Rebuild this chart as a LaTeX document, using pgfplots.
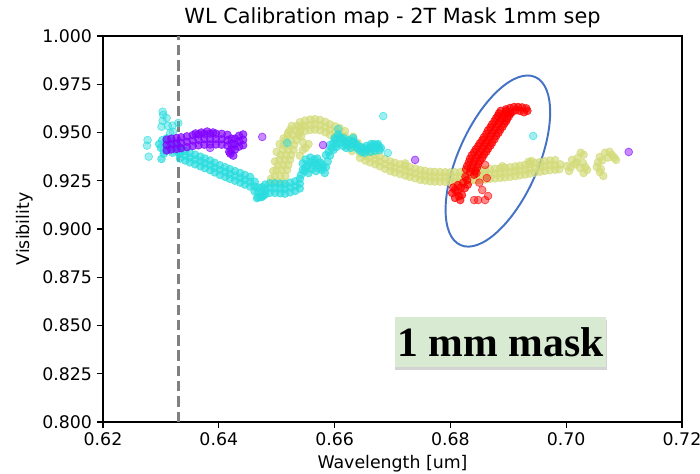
\documentclass[border=0pt]{standalone}
\usepackage{fontspec}
\setmainfont{DejaVu Sans}
\newfontfamily\tnr{Liberation Serif}
\usepackage{pgfplots}
\pgfplotsset{compat=1.18}
\usetikzlibrary{shadows}
\definecolor{cpurple}{RGB}{128,0,255}
\definecolor{ccyan}{RGB}{41,220,222}
\definecolor{cyel}{RGB}{210,218,120}
\definecolor{cred}{RGB}{255,0,0}
\definecolor{cblue}{RGB}{68,114,196}
\definecolor{boxgreen}{RGB}{217,234,211}
\definecolor{dgray}{RGB}{128,128,128}
\pgfplotsset{scat/.style={only marks, mark=*, mark size=2.8pt, mark options={fill opacity=0.68, draw opacity=0.75, line width=0.5pt}},
  lone/.style={only marks, mark=*, mark size=2.8pt, mark options={fill opacity=0.45, draw opacity=0.65, line width=0.5pt}}}
\begin{document}
\begin{tikzpicture}
\begin{axis}[name=ax, scale only axis, width=416.88pt, height=277.92pt,
  xmin=0.62, xmax=0.72, ymin=0.8, ymax=1.0,
  xtick={0.62,0.64,0.66,0.68,0.70,0.72},
  ytick={0.8,0.825,0.85,0.875,0.9,0.925,0.95,0.975,1.0},
  /pgf/number format/assume math mode=true,
  xticklabel style={/pgf/number format/.cd, fixed, fixed zerofill, precision=2},
  yticklabel style={/pgf/number format/.cd, fixed, fixed zerofill, precision=3},
  scaled ticks=false,
  tick align=outside, major tick length=4.4pt,
  xtick pos=left, ytick pos=left,
  tick style={black, line width=1pt},
  axis line style={line width=1pt},
  tick label style={font=\fontsize{12.5}{14}\selectfont},
  label style={font=\fontsize{12.5}{14}\selectfont},
  title={WL Calibration map - 2T Mask 1mm sep},
  title style={font=\fontsize{15}{17}\selectfont, yshift=-4pt},
  xlabel={Wavelength [um]}, ylabel={Visibility},
]
% yellow-green series
\addplot[scat, color=cyel] coordinates {
(0.6502,0.9244) (0.6511,0.9244) (0.6493,0.9244)
(0.6506,0.9275) (0.6515,0.9275) (0.6497,0.9275)
(0.6509,0.9306) (0.6518,0.9306) (0.6500,0.9306)
(0.6511,0.9332) (0.6520,0.9332) (0.6502,0.9332)
(0.6514,0.9358) (0.6523,0.9358) (0.6505,0.9358)
(0.6516,0.9383) (0.6525,0.9383) (0.6507,0.9383)
(0.6520,0.9409) (0.6529,0.9409) (0.6511,0.9409)
(0.6521,0.9435) (0.6530,0.9435) (0.6512,0.9435)
(0.6525,0.9461) (0.6534,0.9461) (0.6516,0.9461)
(0.6528,0.9487) (0.6537,0.9487) (0.6519,0.9487)
(0.6532,0.9513) (0.6541,0.9513) (0.6523,0.9513)
(0.6535,0.9534) (0.6544,0.9534) (0.6526,0.9534)
(0.6494,0.9300) (0.6497,0.9350) (0.6500,0.9400) (0.6505,0.9440) (0.6512,0.9470)
(0.6520,0.9500) (0.6490,0.9260) (0.6545,0.9450) (0.6550,0.9420) (0.6542,0.9480)
(0.6545,0.9410) (0.6555,0.9440) (0.6540,0.9380)
(0.6540,0.9526) (0.6540,0.9553) (0.6540,0.9499)
(0.6549,0.9535) (0.6549,0.9562) (0.6549,0.9508)
(0.6558,0.9540) (0.6558,0.9567) (0.6558,0.9513)
(0.6566,0.9542) (0.6566,0.9569) (0.6566,0.9515)
(0.6575,0.9538) (0.6575,0.9565) (0.6575,0.9511)
(0.6584,0.9528) (0.6584,0.9555) (0.6584,0.9501)
(0.6592,0.9515) (0.6592,0.9542) (0.6592,0.9488)
(0.6601,0.9505) (0.6601,0.9532) (0.6601,0.9478)
(0.6609,0.9495) (0.6609,0.9522) (0.6609,0.9468)
(0.6618,0.9480) (0.6618,0.9507) (0.6618,0.9453)
(0.6627,0.9455) (0.6632,0.9478) (0.6622,0.9432)
(0.6635,0.9425) (0.6640,0.9446) (0.6630,0.9404)
(0.6644,0.9393) (0.6644,0.9418) (0.6644,0.9368)
(0.6653,0.9380) (0.6653,0.9405) (0.6653,0.9355)
(0.6661,0.9370) (0.6661,0.9395) (0.6661,0.9345)
(0.6670,0.9360) (0.6670,0.9385) (0.6670,0.9335)
(0.6678,0.9350) (0.6678,0.9375) (0.6678,0.9325)
(0.6687,0.9337) (0.6687,0.9362) (0.6687,0.9312)
(0.6696,0.9325) (0.6696,0.9350) (0.6696,0.9300)
(0.6704,0.9318) (0.6704,0.9343) (0.6704,0.9293)
(0.6713,0.9310) (0.6713,0.9335) (0.6713,0.9285)
(0.6722,0.9302) (0.6722,0.9327) (0.6722,0.9277)
(0.6730,0.9295) (0.6730,0.9320) (0.6730,0.9270)
(0.6739,0.9288) (0.6739,0.9313) (0.6739,0.9263)
(0.6748,0.9280) (0.6748,0.9305) (0.6748,0.9255)
(0.6756,0.9276) (0.6756,0.9301) (0.6756,0.9251)
(0.6765,0.9272) (0.6765,0.9297) (0.6765,0.9247)
(0.6773,0.9271) (0.6773,0.9296) (0.6773,0.9246)
(0.6782,0.9270) (0.6782,0.9295) (0.6782,0.9245)
(0.6791,0.9269) (0.6791,0.9294) (0.6791,0.9244)
(0.6799,0.9268) (0.6799,0.9293) (0.6799,0.9243)
(0.6808,0.9269) (0.6808,0.9294) (0.6808,0.9244)
(0.6817,0.9270) (0.6817,0.9295) (0.6817,0.9245)
(0.6825,0.9272) (0.6825,0.9297) (0.6825,0.9247)
(0.6834,0.9275) (0.6834,0.9300) (0.6834,0.9250)
(0.6843,0.9277) (0.6843,0.9302) (0.6843,0.9252)
(0.6851,0.9280) (0.6851,0.9305) (0.6851,0.9255)
(0.6860,0.9282) (0.6860,0.9307) (0.6860,0.9257)
(0.6868,0.9285) (0.6868,0.9310) (0.6868,0.9260)
(0.6877,0.9287) (0.6877,0.9312) (0.6877,0.9262)
(0.6886,0.9290) (0.6886,0.9315) (0.6886,0.9265)
(0.6894,0.9292) (0.6894,0.9317) (0.6894,0.9267)
(0.6903,0.9295) (0.6903,0.9320) (0.6903,0.9270)
(0.6912,0.9299) (0.6912,0.9324) (0.6912,0.9274)
(0.6920,0.9303) (0.6920,0.9328) (0.6920,0.9278)
(0.6929,0.9307) (0.6929,0.9332) (0.6929,0.9282)
(0.6937,0.9312) (0.6937,0.9337) (0.6937,0.9287)
(0.6946,0.9317) (0.6946,0.9342) (0.6946,0.9292)
(0.6955,0.9322) (0.6955,0.9347) (0.6955,0.9297)
(0.6963,0.9326) (0.6963,0.9351) (0.6963,0.9301)
(0.6972,0.9330) (0.6972,0.9355) (0.6972,0.9305)
(0.6981,0.9332) (0.6981,0.9357) (0.6981,0.9307)
(0.6722,0.9340) (0.6935,0.9348) (0.6940,0.9352) (0.6890,0.9325) (0.6990,0.9335) (0.6988,0.9310)
(0.7001,0.9326) (0.7005,0.9300) (0.7010,0.9358) (0.7015,0.9335) (0.7020,0.9368) (0.7024,0.9316)
(0.7029,0.9342) (0.7033,0.9320) (0.7036,0.9306) (0.7018,0.9345) (0.7008,0.9320) (0.7030,0.9290)
(0.7025,0.9395) (0.7030,0.9385)
(0.7053,0.9321) (0.7055,0.9345) (0.7058,0.9373) (0.7062,0.9355) (0.7067,0.9395) (0.7072,0.9370)
(0.7079,0.9383) (0.7083,0.9370) (0.7086,0.9358) (0.7058,0.9295) (0.7064,0.9275) (0.7060,0.9310)
(0.7075,0.9400)
};
% cyan series
\addplot[lone, color=ccyan] coordinates {
(0.6277,0.9461) (0.6276,0.9432) (0.6279,0.9375) (0.6303,0.9608) (0.6304,0.9591) (0.6303,0.9561)
(0.6310,0.9575) (0.6301,0.9530) (0.6312,0.9534) (0.6321,0.9504) (0.6316,0.9497) (0.6330,0.9549)
(0.6320,0.9536)
(0.6684,0.9585) (0.6692,0.9394) (0.6606,0.9518) (0.6518,0.9446) (0.6943,0.9482)
};
\addplot[scat, color=ccyan] coordinates {
(0.6301,0.9363) (0.6305,0.9405)
(0.6297,0.9440) (0.6300,0.9420) (0.6302,0.9460) (0.6305,0.9390) (0.6308,0.9445) (0.6310,0.9470)
(0.6312,0.9410) (0.6315,0.9435) (0.6318,0.9455) (0.6320,0.9395) (0.6322,0.9420) (0.6325,0.9445)
(0.6327,0.9405) (0.6330,0.9430) (0.6332,0.9390) (0.6334,0.9415)
(0.6333,0.9390) (0.6333,0.9415) (0.6333,0.9365)
(0.6342,0.9380) (0.6342,0.9405) (0.6342,0.9355)
(0.6350,0.9370) (0.6350,0.9395) (0.6350,0.9345)
(0.6359,0.9360) (0.6359,0.9385) (0.6359,0.9335)
(0.6368,0.9350) (0.6368,0.9375) (0.6368,0.9325)
(0.6376,0.9340) (0.6376,0.9365) (0.6376,0.9315)
(0.6385,0.9330) (0.6385,0.9355) (0.6385,0.9305)
(0.6393,0.9318) (0.6393,0.9343) (0.6393,0.9293)
(0.6402,0.9305) (0.6402,0.9330) (0.6402,0.9280)
(0.6411,0.9295) (0.6411,0.9320) (0.6411,0.9270)
(0.6419,0.9285) (0.6419,0.9310) (0.6419,0.9260)
(0.6428,0.9275) (0.6428,0.9300) (0.6428,0.9250)
(0.6437,0.9265) (0.6437,0.9290) (0.6437,0.9240)
(0.6445,0.9255) (0.6445,0.9280) (0.6445,0.9230)
(0.6454,0.9245) (0.6454,0.9270) (0.6454,0.9220)
(0.6462,0.9220) (0.6462,0.9245) (0.6462,0.9195)
(0.6468,0.9190) (0.6468,0.9215) (0.6468,0.9165)
(0.6475,0.9192) (0.6475,0.9217) (0.6475,0.9167)
(0.6480,0.9205) (0.6480,0.9230) (0.6480,0.9180)
(0.6488,0.9212) (0.6488,0.9237) (0.6488,0.9187)
(0.6497,0.9212) (0.6497,0.9237) (0.6497,0.9187)
(0.6506,0.9210) (0.6506,0.9235) (0.6506,0.9185)
(0.6514,0.9208) (0.6514,0.9233) (0.6514,0.9183)
(0.6523,0.9215) (0.6523,0.9240) (0.6523,0.9190)
(0.6532,0.9222) (0.6532,0.9247) (0.6532,0.9197)
(0.6540,0.9235) (0.6540,0.9260) (0.6540,0.9210)
(0.6466,0.9160) (0.6472,0.9165) (0.6478,0.9175)
(0.6545,0.9306) (0.6558,0.9347) (0.6570,0.9332) (0.6578,0.9306) (0.6585,0.9383) (0.6592,0.9435)
(0.6601,0.9461) (0.6609,0.9477) (0.6618,0.9451) (0.6627,0.9435) (0.6632,0.9471) (0.6639,0.9420)
(0.6647,0.9399) (0.6656,0.9409) (0.6665,0.9430) (0.6673,0.9435) (0.6678,0.9409)
(0.6542,0.9280) (0.6550,0.9320) (0.6555,0.9290) (0.6562,0.9330) (0.6565,0.9360) (0.6568,0.9300)
(0.6575,0.9345) (0.6580,0.9320) (0.6583,0.9290) (0.6550,0.9360) (0.6545,0.9340) (0.6588,0.9350)
(0.6590,0.9400) (0.6595,0.9420) (0.6598,0.9445) (0.6604,0.9440) (0.6606,0.9490) (0.6612,0.9465)
(0.6615,0.9430) (0.6622,0.9440) (0.6625,0.9460) (0.6630,0.9450) (0.6635,0.9440) (0.6642,0.9410)
(0.6650,0.9420) (0.6652,0.9395) (0.6660,0.9420) (0.6662,0.9400) (0.6668,0.9440) (0.6670,0.9420)
(0.6676,0.9425)
(0.6548,0.9300) (0.6553,0.9330) (0.6560,0.9310) (0.6565,0.9340) (0.6572,0.9315) (0.6578,0.9335)
(0.6585,0.9320) (0.6558,0.9370) (0.6570,0.9365)
(0.6592,0.9380) (0.6598,0.9410) (0.6603,0.9425) (0.6610,0.9445) (0.6616,0.9470) (0.6620,0.9420)
(0.6628,0.9420) (0.6633,0.9455) (0.6638,0.9440) (0.6645,0.9425) (0.6655,0.9430) (0.6663,0.9440)
(0.6670,0.9405) (0.6675,0.9440) (0.6680,0.9420) (0.6600,0.9470)
};
% purple series
\addplot[scat, color=cpurple] coordinates {
(0.6310,0.9435) (0.6310,0.9463) (0.6310,0.9407)
(0.6318,0.9440) (0.6318,0.9468) (0.6318,0.9412)
(0.6327,0.9443) (0.6327,0.9471) (0.6327,0.9415)
(0.6335,0.9447) (0.6335,0.9475) (0.6335,0.9419)
(0.6345,0.9452) (0.6345,0.9480) (0.6345,0.9424)
(0.6355,0.9458) (0.6355,0.9486) (0.6355,0.9430)
(0.6365,0.9462) (0.6365,0.9490) (0.6365,0.9434)
(0.6375,0.9465) (0.6375,0.9493) (0.6375,0.9437)
(0.6385,0.9466) (0.6385,0.9494) (0.6385,0.9438)
(0.6395,0.9466) (0.6395,0.9494) (0.6395,0.9438)
(0.6405,0.9465) (0.6405,0.9493) (0.6405,0.9437)
(0.6415,0.9460) (0.6415,0.9488) (0.6415,0.9432)
(0.6422,0.9440) (0.6422,0.9468) (0.6422,0.9412)
(0.6428,0.9440) (0.6428,0.9468) (0.6428,0.9412)
(0.6435,0.9455) (0.6435,0.9483) (0.6435,0.9427)
(0.6442,0.9462) (0.6442,0.9490) (0.6442,0.9434)
(0.6420,0.9390) (0.6425,0.9380) (0.6418,0.9400) (0.6380,0.9505) (0.6370,0.9500)
(0.6390,0.9500) (0.6360,0.9495)
};
\addplot[lone, color=cpurple] coordinates {
(0.6475,0.9477) (0.6385,0.9420) (0.6580,0.9435) (0.6739,0.9358) (0.7108,0.9399)
};
% red series
\addplot[scat, color=cred] coordinates {
(0.6808,0.9202) (0.6813,0.9228) (0.6820,0.9176) (0.6808,0.9161) (0.6817,0.9150) (0.6825,0.9212)
(0.6829,0.9254) (0.6803,0.9187) (0.6812,0.9195) (0.6818,0.9215) (0.6822,0.9240) (0.6826,0.9270)
(0.6830,0.9230) (0.6815,0.9170) (0.6805,0.9215)
(0.6834,0.9295) (0.6841,0.9281) (0.6827,0.9309)
(0.6836,0.9313) (0.6843,0.9299) (0.6829,0.9327)
(0.6839,0.9332) (0.6846,0.9318) (0.6832,0.9346)
(0.6841,0.9350) (0.6848,0.9336) (0.6834,0.9364)
(0.6844,0.9368) (0.6851,0.9354) (0.6837,0.9382)
(0.6848,0.9384) (0.6855,0.9370) (0.6841,0.9398)
(0.6851,0.9399) (0.6858,0.9385) (0.6844,0.9413)
(0.6855,0.9415) (0.6862,0.9401) (0.6848,0.9429)
(0.6858,0.9430) (0.6865,0.9416) (0.6851,0.9444)
(0.6862,0.9446) (0.6869,0.9432) (0.6855,0.9460)
(0.6865,0.9461) (0.6872,0.9447) (0.6858,0.9475)
(0.6869,0.9479) (0.6876,0.9465) (0.6862,0.9493)
(0.6872,0.9497) (0.6879,0.9483) (0.6865,0.9511)
(0.6876,0.9512) (0.6883,0.9498) (0.6869,0.9526)
(0.6879,0.9528) (0.6886,0.9514) (0.6872,0.9542)
(0.6883,0.9544) (0.6890,0.9530) (0.6876,0.9558)
(0.6886,0.9560) (0.6893,0.9546) (0.6879,0.9574)
(0.6889,0.9572) (0.6896,0.9558) (0.6882,0.9586)
(0.6891,0.9585) (0.6898,0.9571) (0.6884,0.9599)
(0.6894,0.9598) (0.6901,0.9584) (0.6887,0.9612)
(0.6896,0.9611) (0.6903,0.9597)
(0.6896,0.9620) (0.6903,0.9627) (0.6910,0.9632) (0.6917,0.9632) (0.6924,0.9630) (0.6931,0.9625)
(0.6927,0.9605) (0.6920,0.9612) (0.6913,0.9615) (0.6906,0.9605) (0.6900,0.9598) (0.6933,0.9612)
};
\addplot[lone, color=cred] coordinates {
(0.6860,0.9332) (0.6863,0.9264) (0.6855,0.9202) (0.6848,0.9150) (0.6860,0.9150) (0.6865,0.9171)
(0.6841,0.9150) (0.6850,0.9240) (0.6845,0.9290)
};
% dashed reference line
\addplot[mark=none, color=dgray, line width=2pt, dash pattern=on 7.5pt off 3.5pt] coordinates {(0.633,0.8) (0.633,1.0)};
% ellipse annotation
\draw[cblue, line width=1.4pt, rotate around={66:(axis cs:0.6882,0.9352)}] (axis cs:0.6882,0.9352) ellipse [x radius=66.2pt, y radius=28.8pt];
% text box
\node[fill=boxgreen, drop shadow={shadow xshift=0.5pt, shadow yshift=-2.5pt, opacity=0.35}, inner xsep=2pt, inner ysep=0pt, minimum height=36pt, font=\tnr\bfseries\fontsize{30}{30}\selectfont] at (axis cs:0.68865,0.84145) {1 mm mask};
\end{axis}
\pgfresetboundingbox
\path ([shift={(-74.16pt,-37.44pt)}]ax.south west) rectangle ([shift={(12.96pt,25.92pt)}]ax.north east);
\end{tikzpicture}
\end{document}
